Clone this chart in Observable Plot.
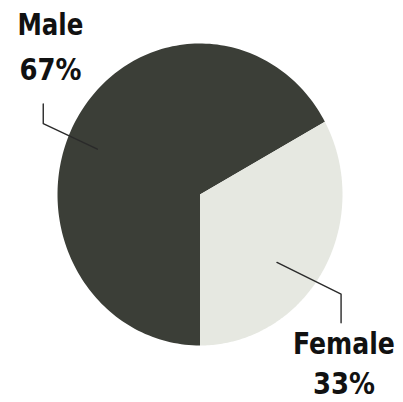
<!DOCTYPE html>
<html>
<head>
<meta charset="utf-8">
<script src="https://cdn.jsdelivr.net/npm/d3@7"></script>
<script src="https://cdn.jsdelivr.net/npm/@observablehq/plot@0.6"></script>
<style>
  html, body { margin: 0; padding: 0; background: #fff; }
  #chart svg { display: block; }
</style>
</head>
<body>
<div id="chart"></div>
<script>
// ---- data ----
const categories = ["Male", "Female"];
const shares = [67, 33];
const percentLabels = ["67%", "33%"];
const sliceColors = ["#3b3e37", "#e6e8e1"];

// label anchor positions (unit pie coordinates) and leader polylines
const labelX = [-1.05, 1.01];
const labelY1 = [1.12, -0.99];
const labelY2 = [0.82, -1.26];
const leaderMale = [[-1.10, 0.60], [-1.10, 0.47], [-0.72, 0.30]];
const leaderFemale = [[0.54, -0.45], [0.99, -0.66], [0.99, -0.85]];

// ---- build slices from values ----
const pie = d3.pie().sort(null).startAngle(Math.PI).endAngle(3 * Math.PI);
const arcs = pie(shares);
const pts = [];
arcs.forEach((a, i) => {
  const name = categories[i];
  pts.push({name, x: 0, y: 0});
  const n = 160;
  for (let k = 0; k <= n; k++) {
    const t = a.startAngle + (a.endAngle - a.startAngle) * k / n;
    pts.push({name, x: Math.sin(t), y: Math.cos(t)});
  }
  pts.push({name, x: 0, y: 0});
});

const labels = categories.map((c, i) => ({c, p: percentLabels[i], x: labelX[i], y1: labelY1[i], y2: labelY2[i]}));
const leaders = [
  ...leaderMale.map(([x, y]) => ({g: "Male", x, y})),
  ...leaderFemale.map(([x, y]) => ({g: "Female", x, y}))
];

const font = "'Liberation Sans Narrow', 'DejaVu Sans Condensed', 'Roboto', sans-serif";

const chart = Plot.plot({
  width: 403,
  height: 402,
  marginLeft: 57,
  marginRight: 61,
  marginTop: 43,
  marginBottom: 57,
  x: {domain: [-1, 1], axis: null},
  y: {domain: [-1, 1], axis: null},
  color: {domain: categories, range: sliceColors},
  style: {background: "#fff"},
  marks: [
    Plot.line(pts, {x: "x", y: "y", z: "name", fill: "name", stroke: "none", curve: "linear"}),
    Plot.line(leaders, {x: "x", y: "y", z: "g", stroke: "#2a2a2a", strokeWidth: 1.4}),
    Plot.text(labels, {x: "x", y: "y1", text: "c", fontSize: 30, fontWeight: "bold", fontFamily: font, fill: "#111", textAnchor: "middle", lineAnchor: "middle"}),
    Plot.text(labels, {x: "x", y: "y2", text: "p", fontSize: 30, fontWeight: "bold", fontFamily: font, fill: "#111", textAnchor: "middle", lineAnchor: "middle"})
  ]
});
document.getElementById("chart").appendChild(chart);

// condense the heavy label type to match the narrow poster lettering
const targetWidth = {"Male": 66, "Female": 102, "67%": 62, "33%": 62};
chart.querySelectorAll("text").forEach((t) => {
  const w = targetWidth[t.textContent.trim()];
  if (w) {
    t.setAttribute("textLength", w);
    t.setAttribute("lengthAdjust", "spacingAndGlyphs");
  }
});
</script>
</body>
</html>
